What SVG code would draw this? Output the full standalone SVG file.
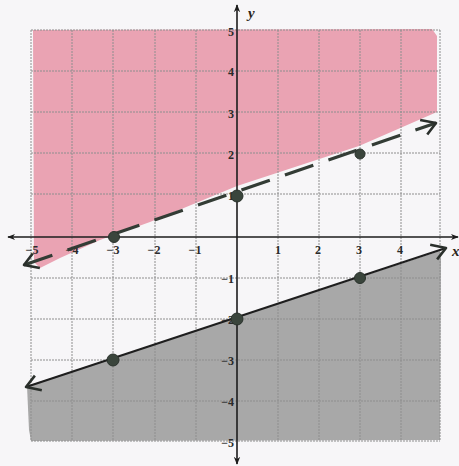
<svg xmlns="http://www.w3.org/2000/svg" width="459" height="466" viewBox="0 0 459 466">
<defs>
<style>
.grid{stroke:#8e8e8e;stroke-width:1;stroke-dasharray:2 1;fill:none}
.axis{stroke:#1c1c1c;stroke-width:1.6;fill:none}
.lbl{font-family:"Liberation Serif",serif;font-size:12px;fill:#2a2a2a;font-weight:bold}
.var{font-family:"Liberation Serif",serif;font-size:15px;font-style:italic;font-weight:bold;fill:#2a2418}
.pt{fill:#3a453c;stroke:#2a322c;stroke-width:1}
.dash{stroke:#333c35;stroke-width:3.2;stroke-dasharray:30 16;fill:none}
.solid{stroke:#1e1e1e;stroke-width:2.2;fill:none}
</style>
<marker id="axarr" viewBox="0 0 10 10" refX="9" refY="5" markerWidth="8" markerHeight="8" markerUnits="userSpaceOnUse" orient="auto-start-reverse">
<path d="M0,1 L10,5 L0,9 L3,5 Z" fill="#1c1c1c"/>
</marker>
<marker id="vopen" viewBox="0 0 20 20" refX="18" refY="10" markerWidth="20" markerHeight="20" markerUnits="userSpaceOnUse" orient="auto-start-reverse">
<path d="M4,2 L18,10 L6,18" fill="none" stroke="#2a2f2b" stroke-width="2.6" stroke-linejoin="round"/>
</marker>
</defs>
<rect width="459" height="466" fill="#f7f6f8"/>
<g id="shading">
<polygon id="red-region" points="33,30 432,29 437,36 437,112 359,146 237,186 150,222 100,240 60,258 40,268 34,262" fill="#eaa3b3"/>
<polygon id="gray-region" points="27,386 440,251 441,260 440,440 31,441 29,430" fill="#a8a8a8"/>
</g>
<g id="grid" class="grid">
<line x1="31" y1="30" x2="31" y2="441"/>
<line x1="72" y1="30" x2="72" y2="441"/>
<line x1="113" y1="30" x2="113" y2="441"/>
<line x1="155" y1="30" x2="155" y2="441"/>
<line x1="196" y1="30" x2="196" y2="441"/>
<line x1="278" y1="30" x2="278" y2="441"/>
<line x1="319" y1="30" x2="319" y2="441"/>
<line x1="360" y1="30" x2="360" y2="441"/>
<line x1="401" y1="30" x2="401" y2="441"/>
<line x1="440" y1="30" x2="440" y2="441"/>
<line x1="31" y1="30" x2="440" y2="30"/>
<line x1="31" y1="71" x2="440" y2="71"/>
<line x1="31" y1="112" x2="440" y2="112"/>
<line x1="31" y1="153" x2="440" y2="153"/>
<line x1="31" y1="194" x2="440" y2="194"/>
<line x1="31" y1="278" x2="440" y2="278"/>
<line x1="31" y1="319" x2="440" y2="319"/>
<line x1="31" y1="360" x2="440" y2="360"/>
<line x1="31" y1="401" x2="440" y2="401"/>
<line x1="31" y1="441" x2="440" y2="441"/>
</g>
<g id="axes">
<line class="axis" x1="8" y1="237" x2="458" y2="237" marker-start="url(#axarr)" marker-end="url(#axarr)"/>
<line class="axis" x1="237" y1="5" x2="237" y2="464" marker-start="url(#axarr)" marker-end="url(#axarr)"/>
<text class="var" x="248" y="18">y</text>
<text class="var" x="452" y="256">x</text>
</g>
<g id="tick-labels" class="lbl">
<text x="32" y="254" text-anchor="middle">−5</text>
<text x="72" y="254" text-anchor="middle">−4</text>
<text x="113" y="254" text-anchor="middle">−3</text>
<text x="154" y="254" text-anchor="middle">−2</text>
<text x="195" y="254" text-anchor="middle">−1</text>
<text x="278" y="254" text-anchor="middle">1</text>
<text x="318" y="254" text-anchor="middle">2</text>
<text x="359" y="254" text-anchor="middle">3</text>
<text x="400" y="254" text-anchor="middle">4</text>
<text x="234" y="36" text-anchor="end">5</text>
<text x="234" y="76" text-anchor="end">4</text>
<text x="234" y="118" text-anchor="end">3</text>
<text x="234" y="159" text-anchor="end">2</text>
<text x="234" y="200" text-anchor="end">1</text>
<text x="234" y="283" text-anchor="end">−1</text>
<text x="234" y="324" text-anchor="end">−2</text>
<text x="234" y="365" text-anchor="end">−3</text>
<text x="234" y="406" text-anchor="end">−4</text>
<text x="234" y="447" text-anchor="end">−5</text>
</g>
<g id="connectors">
<line id="dashed-boundary" class="dash" x1="24" y1="265" x2="436" y2="123" marker-start="url(#vopen)" marker-end="url(#vopen)"/>
<line id="solid-boundary" class="solid" x1="26" y1="387" x2="446" y2="248" marker-start="url(#vopen)" marker-end="url(#vopen)"/>
</g>
<g id="points">
<circle id="p-0-1" class="pt" cx="237" cy="196" r="6"/>
<circle id="p-3-2" class="pt" cx="360" cy="154" r="5"/>
<circle id="p-m3-0" class="pt" cx="114" cy="237" r="5.5"/>
<circle id="p-0-m2" class="pt" cx="237" cy="319" r="6"/>
<circle id="p-3-m1" class="pt" cx="360" cy="278" r="5.5"/>
<circle id="p-m3-m3" class="pt" cx="113" cy="360" r="6"/>
</g>
</svg>
